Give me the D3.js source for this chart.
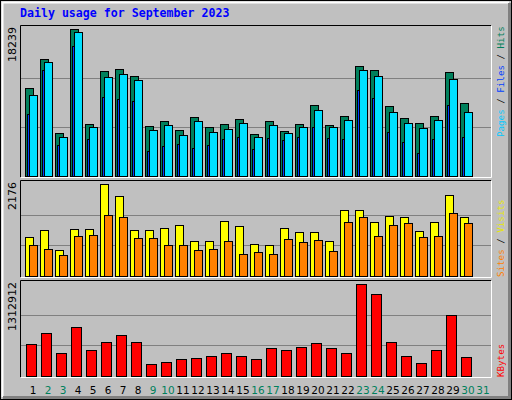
<!DOCTYPE html>
<html>
<head>
<meta charset="utf-8">
<script src="https://cdn.jsdelivr.net/npm/d3@7"></script>
<style>
  body { margin: 0; background: #fff; }
  svg { display: block; }
</style>
</head>
<body>
<div id="chart"></div>
<script>
// Daily usage for September 2023, three stacked panels in the Webalizer style.

var days = d3.range(1, 32);
var weekend = [2, 3, 9, 10, 16, 17, 23, 24, 30, 31];

var hits   = [10920, 14520, 5335, 18239, 6450, 13030, 13275, 12400, 6200, 6825, 5710, 7320, 6080, 6450, 7070,
              5210, 6825, 5585, 6450, 8810, 6330, 7445, 13650, 13150, 8685, 7200, 6575, 7445, 12900, 9060];
var files  = [7690, 13150, 3850, 16130, 4590, 9800, 9550, 9300, 3100, 3720, 3970, 3470, 3850, 4590, 4840,
              3350, 4715, 4465, 4840, 6080, 4715, 4590, 10670, 9680, 5460, 4220, 2855, 4590, 8810, 4840];
var pages  = [10050, 14145, 4840, 17870, 6080, 12280, 12655, 11910, 5710, 6330, 5090, 6825, 5460, 5830, 6575,
              4840, 6330, 5335, 6080, 8190, 6080, 6950, 13150, 12410, 7940, 6575, 5955, 6950, 12035, 7940];
var visits = [922, 1088, 615, 1112, 1112, 2176, 1892, 1088, 1088, 1135, 1206, 828, 828, 1301, 1183,
              757, 733, 1135, 1041, 1041, 828, 1561, 1561, 1277, 1419, 1395, 1064, 1277, 1916, 1395];
var sites  = [733, 639, 497, 946, 970, 1443, 1395, 899, 899, 733, 733, 615, 639, 828, 520,
              568, 520, 875, 804, 851, 591, 1277, 1395, 946, 1206, 1254, 922, 946, 1490, 1254];
var kbytes = [456665, 613640, 328230, 699260, 371040, 485210, 585100, 485210, 171250, 199790, 242600, 256870,
              285420, 328230, 285420, 242600, 399580, 371040, 413850, 470930, 399580, 328230, 1312912, 1170200,
              485210, 285420, 185520, 371040, 870510, 271150];

var W = 512, H = 400;
var svg = d3.select("#chart").append("svg").attr("width", W).attr("height", H);

// raised grey frame
svg.append("rect").attr("x", 0.5).attr("y", 0.5).attr("width", W - 1).attr("height", H - 1)
    .attr("fill", "#c0c0c0").attr("stroke", "#000");
svg.append("path").attr("d", "M2.5," + (H - 3) + "V2.5H" + (W - 3)).attr("fill", "none").attr("stroke", "#fff").attr("stroke-width", 2);
svg.append("path").attr("d", "M3," + (H - 2.5) + "H" + (W - 2.5) + "V3").attr("fill", "none").attr("stroke", "#808080").attr("stroke-width", 3);

svg.append("text").attr("x", 20).attr("y", 17)
    .attr("font-family", "DejaVu Sans Mono").attr("font-weight", "bold").attr("font-size", 11.6)
    .attr("fill", "#0000ff").text("Daily usage for September 2023");

// x scale: one slot of 15px per day
var x = d3.scaleBand().domain(days).range([25, 490]).paddingInner(0);

var panels = [
    {top: 25, bottom: 177, maxY: 29, max: 18239, series: [
        {data: hits, color: "#00805c", dx: 0, w: 8},
        {data: files, color: "#0040ff", dx: 2, w: 8},
        {data: pages, color: "#00e0ff", dx: 4, w: 8}],
     legend: [["Pages", "#00c8ff"], [" / ", "#000"], ["Files", "#0040ff"], [" / ", "#000"], ["Hits", "#00805c"]], legendY: 137},
    {top: 180, bottom: 277, maxY: 184, max: 2176, series: [
        {data: visits, color: "#ffff00", dx: 0, w: 8},
        {data: sites, color: "#ff8000", dx: 4, w: 8}],
     legend: [["Sites", "#ff8000"], [" / ", "#000"], ["Visits", "#e8e800"]], legendY: 277},
    {top: 280, bottom: 377, maxY: 284, max: 1312912, series: [
        {data: kbytes, color: "#ff0000", dx: 1, w: 10}],
     legend: [["KBytes", "#ff0000"]], legendY: 377}
];

panels.forEach(function(p) {
    var base = p.bottom - 1;
    var y = d3.scaleLinear().domain([0, p.max]).range([base, p.maxY]);
    var g = svg.append("g");

    // inset panel edges
    g.append("path").attr("d", "M20.5," + p.bottom + "V" + (p.top + 0.5) + "H491")
        .attr("fill", "none").attr("stroke", "#000");
    g.append("path").attr("d", "M21," + (p.bottom + 0.5) + "H491.5V" + (p.top + 1))
        .attr("fill", "none").attr("stroke", "#fff");

    // grid at thirds
    g.selectAll("line.grid").data([p.max / 3, p.max * 2 / 3]).enter().append("line")
        .attr("x1", 21).attr("x2", 491)
        .attr("y1", function(d) { return Math.round(y(d)) + 0.5; })
        .attr("y2", function(d) { return Math.round(y(d)) + 0.5; })
        .attr("stroke", "#808080");

    p.series.forEach(function(s) {
        g.selectAll(null).data(s.data).enter().append("rect")
            .attr("x", function(d, i) { return x(days[i]) + s.dx + 0.5; })
            .attr("y", function(d) { return Math.round(y(d)) + 0.5; })
            .attr("width", s.w)
            .attr("height", function(d) { return base - Math.round(y(d)); })
            .attr("fill", s.color).attr("stroke", "#000");
    });

    // max label, rotated
    g.append("text").attr("transform", "translate(16," + (p.top + 2) + ") rotate(-90)")
        .attr("text-anchor", "end").attr("font-family", "DejaVu Sans").attr("font-size", 11)
        .attr("fill", "#000").text(d3.format("d")(p.max));

    // right legend, rotated
    var t = g.append("text").attr("transform", "translate(504," + p.legendY + ") rotate(-90)")
        .attr("font-family", "DejaVu Sans Mono").attr("font-size", 9.2);
    p.legend.forEach(function(l) {
        t.append("tspan").attr("fill", l[1]).attr("xml:space", "preserve").text(l[0]);
    });
});

svg.selectAll("text.day").data(days).enter().append("text")
    .attr("x", function(d) { return x(d) + 8; })
    .attr("y", 394)
    .attr("text-anchor", "middle").attr("font-family", "DejaVu Sans").attr("font-size", 10.5)
    .attr("fill", function(d) { return weekend.indexOf(d) >= 0 ? "#00805c" : "#000"; })
    .text(function(d) { return d; });
</script>
</body>
</html>
